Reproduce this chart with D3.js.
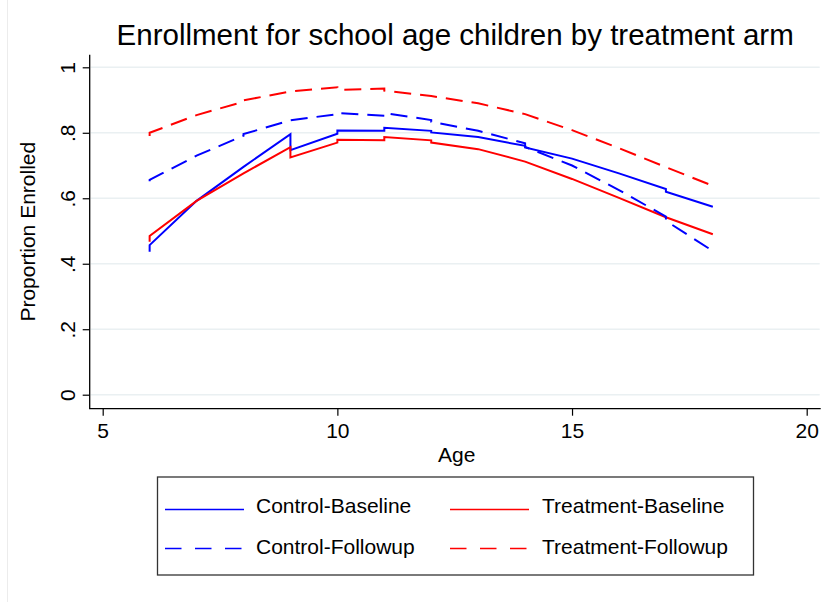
<!DOCTYPE html>
<html lang='en'>
<head>
	<meta charset='UTF-8'/>
	<title>Enrollment for school age children by treatment arm</title>
	<script src='https://cdnjs.cloudflare.com/ajax/libs/d3/7.8.5/d3.min.js'></script>
	<style>
		body {margin: 0; background: #fff;}
		svg {display: block; font-family: 'Liberation Sans', Arial, Helvetica, sans-serif;}
	</style>
</head>
<body>
	<div class='graph'></div>
	<script>
		// series values, [age, proportion]
		// repeated ages are the little vertical jumps in the original
		var controlBaseline = [[6, .437], [6, .457], [7, .592], [8, .696], [9, .796], [9, .747],
			[10, .797], [10, .807], [11, .806], [11, .815], [12, .806], [12, .801], [13, .787],
			[14, .760], [14, .755], [15, .721], [16, .676], [17, .628], [17, .620], [18, .574]];
		var treatmentBaseline = [[6, .467], [6, .485], [7, .592], [8, .676], [9, .756], [9, .725],
			[10, .770], [10, .779], [11, .777], [11, .787], [12, .777], [12, .770], [13, .750],
			[14, .712], [15, .659], [16, .601], [17, .542], [18, .490]];
		var controlFollowup = [[6, .652], [6, .656], [7, .730], [8, .791], [8, .796], [9, .838],
			[10, .857], [10, .860], [11, .852], [11, .860], [12, .839], [12, .834], [13, .806],
			[14, .768], [14, .757], [15, .700], [16, .625], [17, .544], [17, .531], [18, .439]];
		var treatmentFollowup = [[6, .790], [6, .800], [7, .854], [8, .895], [8, .899], [9, .926],
			[10, .939], [10, .931], [11, .935], [11, .929], [12, .912], [13, .890], [14, .857],
			[15, .808], [16, .753], [17, .695], [18, .638]];

		var xTicks = [5, 10, 15, 20];
		var yTicks = [0, .2, .4, .6, .8, 1];
		var yTickLabels = ['0', '.2', '.4', '.6', '.8', '1'];
		var seriesNames = ['Control-Baseline', 'Treatment-Baseline', 'Control-Followup', 'Treatment-Followup'];

		var width = 828, height = 602;
		var plot = {left: 89.7, right: 820.7, top: 54.7, bottom: 408.7};
		var font = 21;

		var series = [
			{name: seriesNames[0], values: controlBaseline, color: '#0000ff', dash: null},
			{name: seriesNames[1], values: treatmentBaseline, color: '#ff0000', dash: null},
			{name: seriesNames[2], values: controlFollowup, color: '#0000ff', dash: '17,9'},
			{name: seriesNames[3], values: treatmentFollowup, color: '#ff0000', dash: '17,9'}
		];

		var svg = d3.select('.graph')
			.append('svg')
			.attr('width', width)
			.attr('height', height);

		// faint outer edge on the left
		svg.append('line')
			.attr('x1', 7.5).attr('x2', 7.5)
			.attr('y1', 0).attr('y2', height)
			.style('stroke', '#ececec');

		const X_SCALE = d3.scaleLinear().domain([5, 20]).range([102.7, 806.7]);
		const Y_SCALE = d3.scaleLinear().domain([0, 1]).range([394.7, 67.3]);

		// gridlines
		svg.append('g')
			.selectAll('line')
			.data(yTicks)
			.enter()
			.append('line')
			.attr('x1', plot.left + 1)
			.attr('x2', plot.right - 1)
			.attr('y1', d => Y_SCALE(d))
			.attr('y2', d => Y_SCALE(d))
			.style('stroke', '#eaf0f2')
			.style('stroke-width', 1.5);

		// axes
		var xAxis = svg.append('g')
			.attr('transform', 'translate(0,' + plot.bottom + ')')
			.call(d3.axisBottom(X_SCALE).tickValues(xTicks).tickSize(7).tickPadding(5).tickFormat(d3.format('d')));
		var yAxis = svg.append('g')
			.attr('transform', 'translate(' + plot.left + ',0)')
			.call(d3.axisLeft(Y_SCALE).tickValues(yTicks).tickSize(7).tickFormat((d, i) => yTickLabels[i]));
		[xAxis, yAxis].forEach(a => {
			a.select('.domain').remove();
			a.selectAll('line').style('stroke', '#000').style('stroke-width', 1.2);
			a.selectAll('text')
				.style('font-family', "'Liberation Sans', Arial, Helvetica, sans-serif")
				.style('font-size', font + 'px')
				.style('fill', '#000');
		});
		xAxis.selectAll('text').attr('dy', null).attr('y', 29.8);
		yAxis.selectAll('text')
			.attr('x', null).attr('dy', null)
			.attr('text-anchor', 'middle')
			.attr('transform', 'translate(-14.3,0) rotate(-90)');

		svg.append('path')
			.attr('d', 'M' + plot.left + ',' + plot.top + 'V' + plot.bottom + 'H' + plot.right)
			.style('fill', 'none')
			.style('stroke', '#000')
			.style('stroke-width', 1.3);

		// lines
		var line = d3.line().x(d => X_SCALE(d[0])).y(d => Y_SCALE(d[1]));
		svg.append('g')
			.selectAll('path')
			.data(series)
			.enter()
			.append('path')
			.attr('d', d => line(d.values))
			.style('fill', 'none')
			.style('stroke', d => d.color)
			.style('stroke-width', 2)
			.style('stroke-dasharray', d => d.dash);

		// titles
		svg.append('text')
			.text('Enrollment for school age children by treatment arm')
			.attr('x', (plot.left + plot.right) / 2)
			.attr('y', 45)
			.attr('text-anchor', 'middle')
			.style('font-size', '29.5px');
		svg.append('text')
			.text('Age')
			.attr('x', (plot.left + plot.right) / 2 + 1.5)
			.attr('y', 462)
			.attr('text-anchor', 'middle')
			.style('font-size', font + 'px');
		svg.append('text')
			.text('Proportion Enrolled')
			.attr('transform', 'translate(35,' + (plot.top + plot.bottom) / 2 + ') rotate(-90)')
			.attr('text-anchor', 'middle')
			.style('font-size', font + 'px');

		// legend
		var legend = svg.append('g');
		legend.append('rect')
			.attr('x', 157.5).attr('y', 477)
			.attr('width', 596).attr('height', 98)
			.style('fill', '#fff')
			.style('stroke', '#333')
			.style('stroke-width', 1.3);
		var cols = [{k: 165, t: 256}, {k: 450, t: 542}];
		var rows = [{k: 509.5, t: 513}, {k: 548.5, t: 554}];
		var item = legend.selectAll('.item')
			.data(series)
			.enter()
			.append('g');
		item.append('line')
			.attr('x1', (d, i) => cols[i % 2].k)
			.attr('x2', (d, i) => cols[i % 2].k + 79)
			.attr('y1', (d, i) => rows[Math.floor(i / 2)].k)
			.attr('y2', (d, i) => rows[Math.floor(i / 2)].k)
			.style('stroke', d => d.color)
			.style('stroke-width', 1.6)
			.style('stroke-dasharray', d => d.dash ? '16.5,13.5' : null);
		item.append('text')
			.text(d => d.name)
			.attr('x', (d, i) => cols[i % 2].t)
			.attr('y', (d, i) => rows[Math.floor(i / 2)].t)
			.style('font-size', font + 'px');
	</script>
</body>
</html>
